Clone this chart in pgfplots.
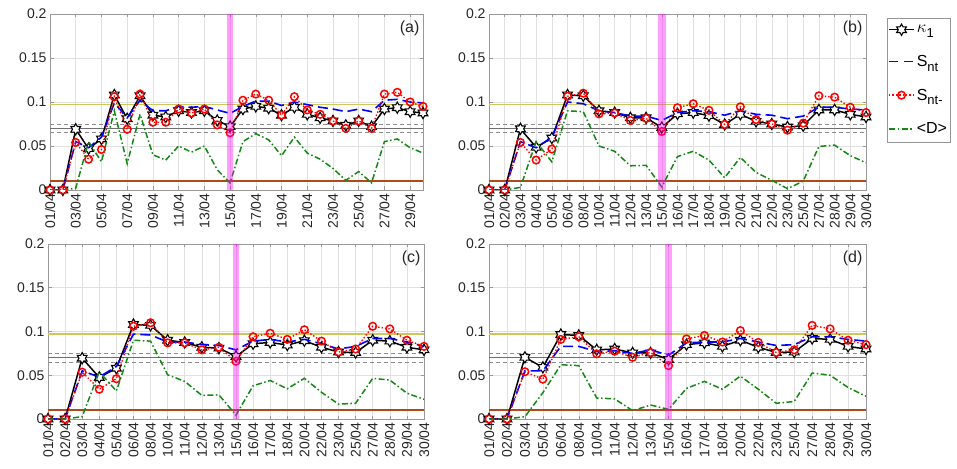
\documentclass[border=0pt]{standalone}
\usepackage{fontspec}
\setmainfont{Liberation Sans}
\usepackage{pgfplots}
\usepackage{pgfplotstable}
\pgfplotsset{compat=1.18}
\definecolor{refyellow}{RGB}{205,200,90}
\definecolor{refgray}{RGB}{110,110,110}
\definecolor{refdgray}{RGB}{140,140,140}
\definecolor{refbrown}{RGB}{175,75,25}
\definecolor{mgreen}{RGB}{20,135,20}
\definecolor{bandcol}{RGB}{255,0,255}
\definecolor{legframe}{RGB}{150,150,150}

\pgfdeclareplotmark{hexagram}{%
  \pgfpathmoveto{\pgfpointpolar{90}{\pgfplotmarksize}}%
  \pgfpathlineto{\pgfpointpolar{120}{0.577\pgfplotmarksize}}%
  \pgfpathlineto{\pgfpointpolar{150}{\pgfplotmarksize}}%
  \pgfpathlineto{\pgfpointpolar{180}{0.577\pgfplotmarksize}}%
  \pgfpathlineto{\pgfpointpolar{210}{\pgfplotmarksize}}%
  \pgfpathlineto{\pgfpointpolar{240}{0.577\pgfplotmarksize}}%
  \pgfpathlineto{\pgfpointpolar{270}{\pgfplotmarksize}}%
  \pgfpathlineto{\pgfpointpolar{300}{0.577\pgfplotmarksize}}%
  \pgfpathlineto{\pgfpointpolar{330}{\pgfplotmarksize}}%
  \pgfpathlineto{\pgfpointpolar{0}{0.577\pgfplotmarksize}}%
  \pgfpathlineto{\pgfpointpolar{30}{\pgfplotmarksize}}%
  \pgfpathlineto{\pgfpointpolar{60}{0.577\pgfplotmarksize}}%
  \pgfpathclose
  \pgfusepathqfillstroke
}

\newcommand{\sub}[1]{\raisebox{-0.55ex}{\fontsize{13}{13}\selectfont #1}}

\tikzset{
  kst/.style={color=black, draw=black, solid, line width=1.5pt, mark=hexagram, mark size=5.6pt, mark options={solid, fill=white, draw=black, line width=1.1pt}},
  sst/.style={color=blue, draw=blue, line width=1.6pt, dash pattern=on 10pt off 5pt},
  rst/.style={color=red, draw=red, line width=1.4pt, dash pattern=on 1.4pt off 2pt, mark=o, mark size=3.8pt, mark options={solid, fill=white, draw=red, line width=1.5pt}},
  dst/.style={color=mgreen, draw=mgreen, line width=1.5pt, dash pattern=on 6pt off 2.5pt on 1.5pt off 2.5pt},
}

\pgfplotsset{
  panel/.style={
    scale only axis, anchor=south west,
    ymin=0, ymax=0.2, ytick={0,0.05,0.1,0.15,0.2},
    yticklabels={0,0.05,0.1,0.15,0.2},
    grid=major, major grid style={black!12, line width=0.5pt},
    axis line style={black!40, line width=0.6pt},
    tick style={black!40, line width=0.5pt},
    major tick length=3.5pt, tick align=inside,
    ticklabel style={font=\fontsize{14}{14}\selectfont, text=black!85},
    xticklabel style={rotate=90, anchor=east},
    clip mode=individual,
  },
}

\newcommand{\reflines}[2]{%
  \addplot[forget plot, refyellow, line width=1.5pt] coordinates {(#1,0.097) (#2,0.097)};
  \addplot[forget plot, refgray, line width=1.2pt] coordinates {(#1,0.07) (#2,0.07)};
  \addplot[forget plot, refdgray, line width=0.8pt, dash pattern=on 4pt off 3pt] coordinates {(#1,0.075) (#2,0.075)};
  \addplot[forget plot, refdgray, line width=0.8pt, dash pattern=on 4pt off 3pt] coordinates {(#1,0.065) (#2,0.065)};
  \addplot[forget plot, refbrown, line width=1.6pt] coordinates {(#1,0.01) (#2,0.01)};
}
\newcommand{\band}[2]{%
  \addplot[forget plot, draw=none, fill=bandcol, fill opacity=0.38] coordinates {(#1,0) (#2,0) (#2,0.2) (#1,0.2)} -- cycle;
}
\newcommand{\panellabel}[1]{%
  \node[anchor=north east, inner sep=0pt, font=\fontsize{16}{16}\selectfont, text=black!85] at (rel axis cs:0.991,0.962) {#1};
}

\pgfplotstableread{
x K Snt Sntm D
1 0 0 0 0
2 0 0 0 0
3 0.069 0.055 0.054 0.002
4 0.047 0.048 0.035 0.055
5 0.058 0.060 0.046 0.032
6 0.108 0.099 0.106 0.090
7 0.081 0.082 0.069 0.030
8 0.107 0.102 0.109 0.086
9 0.085 0.090 0.077 0.040
10 0.083 0.090 0.077 0.034
11 0.090 0.095 0.092 0.050
12 0.088 0.094 0.0875 0.043
13 0.090 0.095 0.092 0.050
14 0.079 0.091 0.074 0.023
15 0.072 0.087 0.065 0.008
16 0.092 0.095 0.102 0.055
17 0.095 0.101 0.109 0.064
18 0.093 0.101 0.102 0.057
19 0.085 0.096 0.085 0.039
20 0.094 0.100 0.106 0.060
21 0.086 0.097 0.091 0.042
22 0.082 0.094 0.086 0.035
23 0.0785 0.092 0.0785 0.0245
24 0.0735 0.089 0.070 0.011
25 0.0785 0.092 0.0785 0.021
26 0.072 0.089 0.070 0.008
27 0.092 0.102 0.109 0.055
28 0.0935 0.103 0.111 0.058
29 0.089 0.100 0.100 0.048
30 0.0875 0.099 0.095 0.042
}\tabA

\pgfplotstableread{
x K Snt Sntm D
0 0 0 0 0
1 0 0 0 0
2 0.0695 0.055 0.054 0.003
3 0.0485 0.048 0.034 0.055
4 0.059 0.060 0.0465 0.032
5 0.108 0.100 0.1065 0.090
6 0.107 0.098 0.110 0.089
7 0.090 0.090 0.0865 0.050
8 0.088 0.088 0.0875 0.044
9 0.082 0.084 0.079 0.0275
10 0.082 0.084 0.0815 0.028
11 0.071 0.079 0.0665 0.0035
12 0.0865 0.088 0.0935 0.038
13 0.088 0.090 0.098 0.044
14 0.0845 0.089 0.0905 0.034
15 0.0745 0.085 0.0745 0.014
16 0.086 0.090 0.0945 0.037
17 0.078 0.086 0.080 0.020
18 0.075 0.085 0.075 0.011
19 0.0715 0.081 0.068 0.0015
20 0.073 0.084 0.076 0.010
21 0.091 0.094 0.107 0.0495
22 0.091 0.094 0.1055 0.051
23 0.086 0.092 0.094 0.039
24 0.083 0.091 0.088 0.031
}\tabB

\pgfplotstableread{
x K Snt Sntm D
0 0 0 0 0
1 0 0 0 0
2 0.0695 0.055 0.0535 0.0027
3 0.0475 0.048 0.034 0.054
4 0.058 0.060 0.046 0.032
5 0.108 0.097 0.106 0.090
6 0.107 0.096 0.110 0.089
7 0.090 0.088 0.087 0.0505
8 0.0875 0.088 0.087 0.043
9 0.082 0.085 0.079 0.027
10 0.081 0.084 0.082 0.0275
11 0.0715 0.079 0.066 0.0045
12 0.086 0.089 0.094 0.038
13 0.0875 0.091 0.098 0.044
14 0.0845 0.088 0.091 0.0345
15 0.0895 0.091 0.102 0.0465
16 0.082 0.086 0.089 0.0305
17 0.0765 0.080 0.0765 0.017
18 0.076 0.083 0.080 0.018
19 0.090 0.092 0.106 0.0465
20 0.089 0.092 0.103 0.0445
21 0.082 0.088 0.090 0.0295
22 0.079 0.083 0.083 0.0225
}\tabC

\pgfplotstableread{
x K Snt Sntm D
0 0 0 0 0
1 0 0 0 0
2 0.0705 0.055 0.054 0.0027
3 0.059 0.055 0.0455 0.030
4 0.0965 0.083 0.091 0.062
5 0.0955 0.083 0.094 0.061
6 0.079 0.077 0.0745 0.024
7 0.080 0.078 0.0775 0.023
8 0.0755 0.075 0.0705 0.0095
9 0.0755 0.079 0.076 0.016
10 0.068 0.073 0.061 0.011
11 0.085 0.087 0.0915 0.035
12 0.087 0.088 0.0955 0.043
13 0.083 0.088 0.088 0.034
14 0.090 0.092 0.101 0.049
15 0.082 0.088 0.0875 0.034
16 0.076 0.084 0.076 0.018
17 0.0765 0.085 0.079 0.020
18 0.092 0.094 0.107 0.0525
19 0.091 0.094 0.103 0.050
20 0.083 0.091 0.090 0.036
21 0.080 0.089 0.085 0.026
}\tabD

\begin{document}
\begin{tikzpicture}
\useasboundingbox (0,0) rectangle (957pt,468pt);

% (a)
\begin{axis}[panel, at={(50pt,278pt)}, width=373pt, height=176pt,
  xmin=1, xmax=30, xtick={1,3,...,29},
  xticklabels={01/04,03/04,05/04,07/04,09/04,11/04,13/04,15/04,17/04,19/04,21/04,23/04,25/04,27/04,29/04}]
\reflines{1}{30}
\addplot[kst] table[x=x,y=K] {\tabA};
\addplot[sst] table[x=x,y=Snt] {\tabA};
\addplot[rst] table[x=x,y=Sntm] {\tabA};
\addplot[dst] table[x=x,y=D] {\tabA};
\band{14.74}{15.26}
\panellabel{(a)}
\end{axis}

% (b)
\begin{axis}[panel, at={(489pt,278pt)}, width=377pt, height=176pt,
  xmin=0, xmax=24, xtick={0,...,24},
  xticklabels={01/04,02/04,03/04,04/04,05/04,06/04,08/04,10/04,11/04,12/04,13/04,15/04,16/04,17/04,18/04,19/04,20/04,21/04,22/04,23/04,25/04,27/04,28/04,29/04,30/04},
  legend style={at={(axis description cs:1.0557,0.977)}, anchor=north west, name=leg,
    draw=none, fill=white, font=\fontsize{16}{18}\selectfont,
    row sep=17pt, inner xsep=1pt, inner ysep=5pt, cells={anchor=west}},
  legend cell align=left]
\addlegendimage{legend image code/.code={%
  \draw[black, line width=1.5pt] (0pt,0pt) -- (25pt,0pt);
  \draw[black, line width=1.1pt, fill=white] plot[mark=hexagram, mark size=5.6pt] coordinates {(12.5pt,0pt)};}}
\addlegendentry{$\kappa$\sub{1}}
\addlegendimage{legend image code/.code={%
  \draw[blue, line width=1.6pt] (0pt,0pt) -- (9pt,0pt) (15pt,0pt) -- (24pt,0pt);}}
\addlegendentry{S\sub{nt}}
\addlegendimage{legend image code/.code={%
  \draw[red, line width=1.4pt, dash pattern=on 1.4pt off 2pt] (0pt,0pt) -- (25pt,0pt);
  \draw[red, line width=1.5pt, fill=white] plot[mark=o, mark size=3.8pt] coordinates {(12.5pt,0pt)};}}
\addlegendentry{S\sub{nt-}}
\addlegendimage{legend image code/.code={%
  \draw[mgreen, line width=1.5pt, dash pattern=on 6pt off 2.5pt on 1.5pt off 2.5pt] (0pt,0pt) -- (25pt,0pt);}}
\addlegendentry{<D>}
\reflines{0}{24}
\addplot[kst, forget plot] table[x=x,y=K] {\tabB};
\addplot[sst, forget plot] table[x=x,y=Snt] {\tabB};
\addplot[rst, forget plot] table[x=x,y=Sntm] {\tabB};
\addplot[dst, forget plot] table[x=x,y=D] {\tabB};
\band{10.75}{11.25}
\panellabel{(b)}
\end{axis}
\draw[legframe, line width=0.6pt] (leg.south west) rectangle (leg.north east);

% (c)
\begin{axis}[panel, at={(48pt,49pt)}, width=376pt, height=175pt,
  xmin=0, xmax=22, xtick={0,...,22},
  xticklabels={01/04,02/04,03/04,04/04,05/04,06/04,08/04,10/04,11/04,12/04,13/04,15/04,16/04,17/04,18/04,20/04,22/04,23/04,25/04,27/04,28/04,29/04,30/04}]
\reflines{0}{22}
\addplot[kst] table[x=x,y=K] {\tabC};
\addplot[sst] table[x=x,y=Snt] {\tabC};
\addplot[rst] table[x=x,y=Sntm] {\tabC};
\addplot[dst] table[x=x,y=D] {\tabC};
\band{10.8}{11.2}
\panellabel{(c)}
\end{axis}

% (d)
\begin{axis}[panel, at={(489pt,49pt)}, width=377pt, height=175pt,
  xmin=0, xmax=21, xtick={0,...,21},
  xticklabels={01/04,02/04,03/04,05/04,06/04,08/04,10/04,11/04,12/04,13/04,15/04,16/04,17/04,18/04,20/04,22/04,23/04,25/04,27/04,28/04,29/04,30/04}]
\reflines{0}{21}
\addplot[kst] table[x=x,y=K] {\tabD};
\addplot[sst] table[x=x,y=Snt] {\tabD};
\addplot[rst] table[x=x,y=Sntm] {\tabD};
\addplot[dst] table[x=x,y=D] {\tabD};
\band{9.8}{10.2}
\panellabel{(d)}
\end{axis}
\end{tikzpicture}
\end{document}
